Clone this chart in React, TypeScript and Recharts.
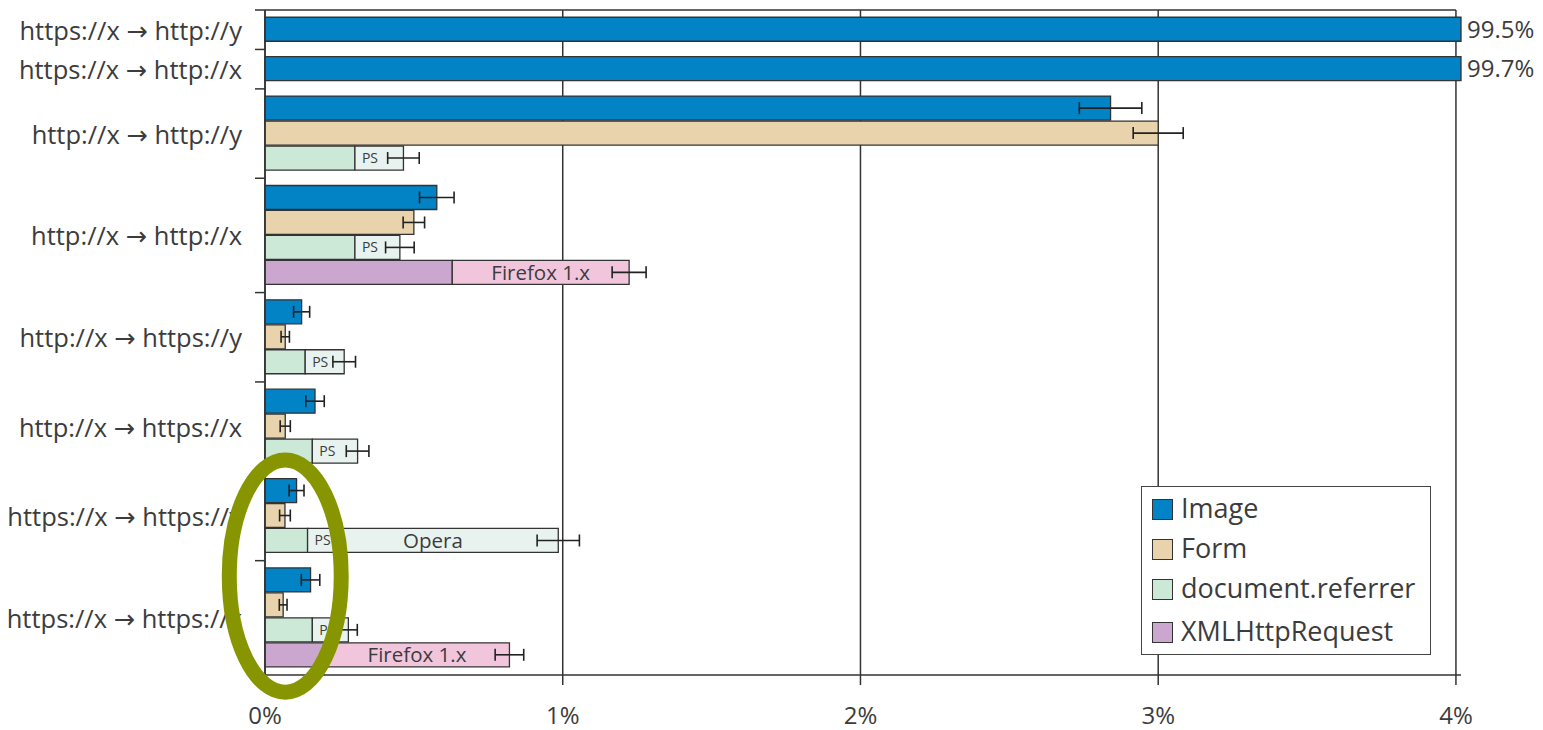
import React from "react";
import {
  BarChart,
  Bar,
  XAxis,
  YAxis,
  CartesianGrid,
  ErrorBar,
  LabelList,
  ReferenceLine,
  ReferenceArea,
  Legend,
} from "recharts";

// ---------- data ----------
const groups = [
  "https://x \u2192 http://y",
  "https://x \u2192 http://x",
  "http://x \u2192 http://y",
  "http://x \u2192 http://x",
  "http://x \u2192 https://y",
  "http://x \u2192 https://x",
  "https://x \u2192 https://y",
  "https://x \u2192 https://x",
];

const imageValues = [99.5, 99.7, 2.84, 0.577, 0.123, 0.168, 0.106, 0.153];
const imageErrors = [null, null, 0.105, 0.058, 0.027, 0.031, 0.025, 0.031];

const formValues = [null, null, 3.0, 0.5, 0.068, 0.068, 0.067, 0.061];
const formErrors = [null, null, 0.084, 0.036, 0.014, 0.017, 0.018, 0.013];

const referrerValues = [null, null, 0.302, 0.302, 0.135, 0.159, 0.143, 0.159];
const referrerExtraValues = [null, null, 0.163, 0.151, 0.131, 0.152, 0.842, 0.121];
const referrerErrors = [null, null, 0.053, 0.048, 0.038, 0.038, 0.071, 0.03];
const referrerExtraLabel = "PS";
const referrerNotes = [null, null, null, null, null, null, "Opera", null];

const xhrValues = [null, null, null, 0.629, null, null, null, 0.2];
const xhrExtraValues = [null, null, null, 0.594, null, null, null, 0.621];
const xhrErrors = [null, null, null, 0.057, null, null, null, 0.048];
const xhrNotes = [null, null, null, "Firefox 1.x", null, null, null, "Firefox 1.x"];

const xTicks = [0, 1, 2, 3, 4];
const X_MAX = 4.017; // right end of the (broken) axis, bars above it are cut

const legendItems = [
  { name: "Image", color: "#0183c6" },
  { name: "Form", color: "#e9d3ac" },
  { name: "document.referrer", color: "#cce8d6" },
  { name: "XMLHttpRequest", color: "#cba6cf" },
];

// ---------- styles ----------
const FONT = '"Open Sans", "DejaVu Sans", sans-serif';
const INK = "#333333";
const TEXT = "#3c3c3c";
const C_IMAGE = "#0183c6";
const C_FORM = "#e9d3ac";
const C_REF = "#cce8d6";
const C_REF_EXTRA = "#e8f3ef";
const C_XHR = "#cba6cf";
const C_XHR_EXTRA = "#f1c6dd";
const C_MARK = "#879600";
const GAP = 0.58; // empty slot fraction between groups

// ---------- build table ----------
const u = (v: any) => (v === null ? undefined : v);
type Row = Record<string, any>;
const rows: Row[] = [];
const boundaries: number[] = [0];
const centers: number[] = [];
let cursor = 0;
groups.forEach((name, gi) => {
  const start = cursor;
  cursor += GAP / 2;
  const push = (r: Row) => {
    rows.push({ pos: cursor + 0.5, group: name, ...r });
    cursor += 1;
  };
  if (imageValues[gi] !== null) {
    const v = imageValues[gi] as number;
    push({
      image: Math.min(v, X_MAX),
      imageErr: u(imageErrors[gi]),
      imageNote: v > X_MAX ? `${v}%` : undefined,
    });
  }
  if (formValues[gi] !== null) {
    push({ form: formValues[gi], formErr: u(formErrors[gi]) });
  }
  if (referrerValues[gi] !== null) {
    push({
      referrer: referrerValues[gi],
      referrerExtra: u(referrerExtraValues[gi]),
      referrerErr: u(referrerErrors[gi]),
      referrerTag: referrerExtraLabel,
      referrerNote: u(referrerNotes[gi]),
    });
  }
  if (xhrValues[gi] !== null) {
    push({
      xhr: xhrValues[gi],
      xhrExtra: u(xhrExtraValues[gi]),
      xhrErr: u(xhrErrors[gi]),
      xhrNote: u(xhrNotes[gi]),
    });
  }
  cursor += GAP / 2;
  boundaries.push(cursor);
  centers.push((start + cursor) / 2);
});
const Y_MAX = cursor;
const labelByCenter = new Map<number, string>(centers.map((c, i) => [c, groups[i]]));
const yTicks = [...boundaries.slice(0, -1), ...centers];

// ---------- custom pieces ----------
const Y_TICK_SIZE = 10;
const Y_TICK_MARGIN = 13;

const YTick = (props: any) => {
  const { x, y, payload } = props;
  const label = labelByCenter.get(payload.value);
  if (label) {
    return (
      <text
        x={x}
        y={y}
        textAnchor="end"
        dominantBaseline="central"
        fontFamily={FONT}
        fontSize={25.5}
        fill={TEXT}
      >
        {label}
      </text>
    );
  }
  return (
    <line
      x1={x + Y_TICK_MARGIN}
      x2={x + Y_TICK_MARGIN + Y_TICK_SIZE}
      y1={y}
      y2={y}
      stroke={INK}
      strokeWidth={1.5}
    />
  );
};

const EllipseMark = (props: any) => {
  const { x, y, width, height } = props;
  return (
    <ellipse
      cx={x + width / 2}
      cy={y + height / 2}
      rx={width / 2}
      ry={height / 2}
      fill="none"
      stroke={C_MARK}
      strokeWidth={15}
    />
  );
};

const LegendBox = () => (
  <div
    style={{
      boxSizing: "border-box",
      width: 290,
      height: 169,
      border: `1.5px solid #444`,
      background: "#fff",
      paddingTop: 2,
      paddingLeft: 10,
      fontFamily: FONT,
      fontSize: 27,
      color: TEXT,
    }}
  >
    {legendItems.map((it, i) => (
      <div
        key={it.name}
        style={{
          display: "flex",
          alignItems: "center",
          height: i === 3 ? 34 : 40,
          marginTop: i === 3 ? 6 : 0,
          whiteSpace: "nowrap",
        }}
      >
        <span
          style={{
            display: "inline-block",
            boxSizing: "border-box",
            width: 21,
            height: 21,
            background: it.color,
            border: `1.5px solid ${INK}`,
            marginRight: 8,
          }}
        />
        <span style={{ lineHeight: 1, marginTop: -3 }}>{it.name}</span>
      </div>
    ))}
  </div>
);

const barCommon = {
  stackId: "s",
  stroke: INK,
  strokeWidth: 1.3,
  isAnimationActive: false,
};

const errCommon = {
  direction: "x" as const,
  width: 6,
  stroke: "#222",
  strokeWidth: 1.6,
};

export default function App() {
  return (
    <div
      style={{
        position: "absolute",
        left: 0,
        top: 0,
        width: 1543,
        height: 730,
        overflow: "hidden",
        background: "#fff",
      }}
    >
      <BarChart
        width={1543}
        height={730}
        data={rows}
        layout="vertical"
        barSize={24}
        margin={{ top: 10, right: 82, bottom: 5, left: 0 }}
      >
        <CartesianGrid horizontal={false} syncWithTicks stroke={INK} strokeWidth={1.5} />
        <XAxis
          type="number"
          domain={[0, X_MAX]}
          ticks={xTicks}
          interval={0}
          tickFormatter={(v: number) => `${v}%`}
          tick={{ fontSize: 24, fill: TEXT, fontFamily: FONT }}
          tickSize={10}
          tickMargin={22}
          height={50}
          axisLine={{ stroke: INK, strokeWidth: 1.5 }}
          tickLine={{ stroke: INK, strokeWidth: 1.5 }}
        />
        <YAxis
          type="number"
          dataKey="pos"
          domain={[0, Y_MAX]}
          ticks={yTicks}
          interval={0}
          tick={<YTick />}
          tickLine={false}
          tickSize={Y_TICK_SIZE}
          tickMargin={Y_TICK_MARGIN}
          width={265}
          axisLine={{ stroke: INK, strokeWidth: 1.5 }}
        />
        <ReferenceLine
          segment={[
            { x: 0, y: 0 },
            { x: 4, y: 0 },
          ]}
          stroke={INK}
          strokeWidth={1.5}
        />
        <Bar dataKey="image" name="Image" fill={C_IMAGE} {...barCommon}>
          <ErrorBar dataKey="imageErr" {...errCommon} />
          <LabelList
            dataKey="imageNote"
            position="right"
            offset={6}
            fill={TEXT}
            fontSize={24}
            fontFamily={FONT}
          />
        </Bar>
        <Bar dataKey="form" name="Form" fill={C_FORM} {...barCommon}>
          <ErrorBar dataKey="formErr" {...errCommon} />
        </Bar>
        <Bar dataKey="referrer" name="document.referrer" fill={C_REF} {...barCommon} />
        <Bar dataKey="referrerExtra" name="document.referrer (extra)" fill={C_REF_EXTRA} {...barCommon}>
          <ErrorBar dataKey="referrerErr" {...errCommon} />
          <LabelList
            dataKey="referrerTag"
            position="insideLeft"
            offset={7}
            fill={TEXT}
            fontSize={14}
            fontFamily={FONT}
          />
          <LabelList
            dataKey="referrerNote"
            position="center"
            fill={TEXT}
            fontSize={20.5}
            fontFamily={FONT}
          />
        </Bar>
        <Bar dataKey="xhr" name="XMLHttpRequest" fill={C_XHR} {...barCommon} />
        <Bar dataKey="xhrExtra" name="XMLHttpRequest (extra)" fill={C_XHR_EXTRA} {...barCommon}>
          <ErrorBar dataKey="xhrErr" {...errCommon} />
          <LabelList
            dataKey="xhrNote"
            position="center"
            fill={TEXT}
            fontSize={20.5}
            fontFamily={FONT}
          />
        </Bar>
        <Legend
          layout="vertical"
          align="center"
          verticalAlign="middle"
          content={() => <LegendBox />}
          wrapperStyle={{ left: 1141, top: 486, width: 290, height: 169, margin: 0 }}
        />
        <ReferenceArea
          x1={-0.12}
          x2={0.256}
          y1={18.03}
          y2={27.33}
          ifOverflow="visible"
          shape={<EllipseMark />}
          zIndex={3000}
        />
      </BarChart>
    </div>
  );
}
